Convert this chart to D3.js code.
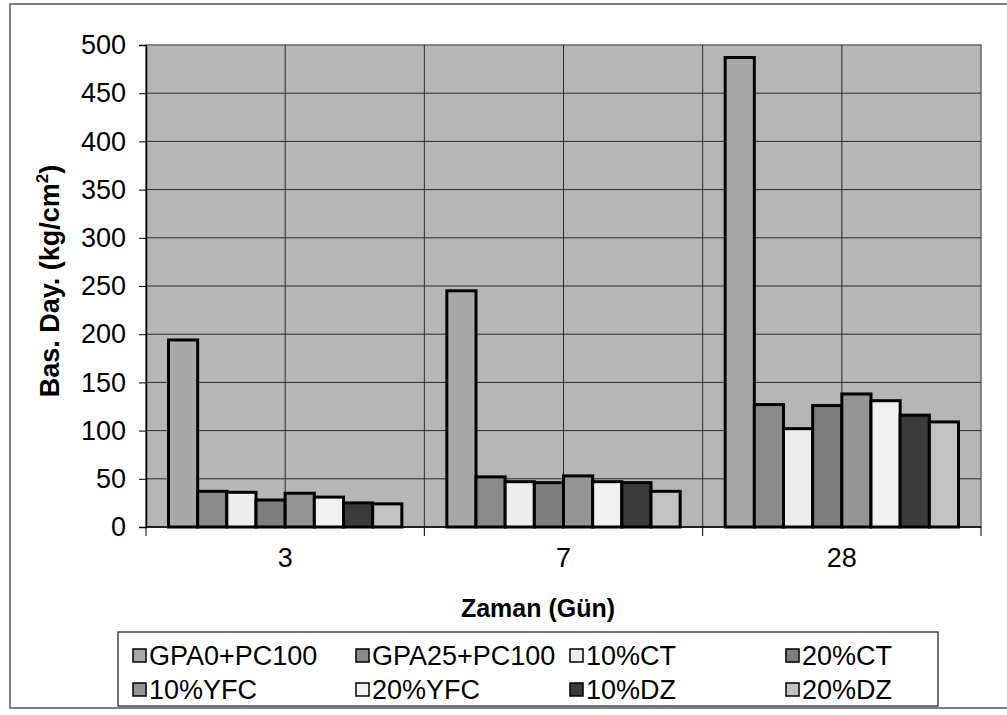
<!DOCTYPE html>
<html>
<head>
<meta charset="utf-8">
<script src="https://cdn.jsdelivr.net/npm/d3@7"></script>
<style>
  body { margin: 0; background: #fff; }
  text { font-family: "Liberation Sans", Arial, sans-serif; }
</style>
</head>
<body>
<script>
// data
var days = ["3", "7", "28"];
var series = ["GPA0+PC100", "GPA25+PC100", "10%CT", "20%CT", "10%YFC", "20%YFC", "10%DZ", "20%DZ"];
var gpa0 = [194, 245, 487];
var gpa25 = [37, 52, 127];
var ct10 = [36, 47, 102];
var ct20 = [28, 46, 126];
var yfc10 = [35, 53, 138];
var yfc20 = [31, 47, 131];
var dz10 = [25, 46, 116];
var dz20 = [24, 37, 109];
var yTicks = [0, 50, 100, 150, 200, 250, 300, 350, 400, 450, 500];

var values = [gpa0, gpa25, ct10, ct20, yfc10, yfc20, dz10, dz20];
var fills = ["#a9a9a9", "#8a8a8a", "#ededed", "#7e7e7e", "#959595", "#f1f1f1", "#3a3a3a", "#c2c2c2"];

var w = 1007;
var h = 715;
var plotL = 146, plotR = 981, plotT = 45, plotB = 527;

var svg = d3.select("body")
            .append("svg")
            .attr("width", w)
            .attr("height", h);

// outer chart frame
svg.append("rect")
  .attr("x", 10).attr("y", 4)
  .attr("width", 1010).attr("height", 704)
  .attr("fill", "#fff")
  .attr("stroke", "#555")
  .attr("stroke-width", 1.5);

var x = d3.scaleBand()
  .domain(days)
  .range([plotL, plotR]);

var gap = 22.5;
var x1 = d3.scaleBand()
  .domain(series)
  .range([gap, x.bandwidth() - gap]);

var y = d3.scaleLinear()
  .domain([0, 500])
  .range([plotB, plotT]);

// plot area
svg.append("rect")
  .attr("x", plotL).attr("y", plotT)
  .attr("width", plotR - plotL).attr("height", plotB - plotT)
  .attr("fill", "#b6b6b6")
  .attr("stroke", "#6a6a6a")
  .attr("stroke-width", 1.5);

// horizontal gridlines
svg.append("g").selectAll("line")
  .data(yTicks.slice(1, -1))
  .enter()
  .append("line")
  .attr("x1", plotL).attr("x2", plotR)
  .attr("y1", function(d) { return y(d); })
  .attr("y2", function(d) { return y(d); })
  .attr("stroke", "#2a2a2a")
  .attr("stroke-width", 1);

// vertical gridlines at category centres and boundaries
var vLines = [];
days.forEach(function(d, i) {
  vLines.push(x(d) + x.bandwidth() / 2);
  if (i > 0) vLines.push(x(d));
});
svg.append("g").selectAll("line")
  .data(vLines)
  .enter()
  .append("line")
  .attr("x1", function(d) { return d; })
  .attr("x2", function(d) { return d; })
  .attr("y1", plotT).attr("y2", plotB)
  .attr("stroke", "#2a2a2a")
  .attr("stroke-width", 1);

// bars
var barData = [];
days.forEach(function(d, i) {
  series.forEach(function(s, j) {
    barData.push({ day: d, name: s, value: values[j][i], fill: fills[j] });
  });
});

svg.append("g").selectAll("rect")
  .data(barData)
  .enter()
  .append("rect")
  .attr("x", function(d) { return x(d.day) + x1(d.name); })
  .attr("y", function(d) { return y(d.value); })
  .attr("width", x1.bandwidth())
  .attr("height", function(d) { return y(0) - y(d.value); })
  .attr("fill", function(d) { return d.fill; })
  .attr("stroke", "#000")
  .attr("stroke-width", 3);

// y axis
var yAxis = d3.axisLeft(y).tickValues(yTicks).tickSize(7).tickPadding(13);
var gy = svg.append("g")
  .attr("transform", "translate(" + plotL + ",0)")
  .call(yAxis);
gy.select(".domain").attr("stroke", "#000").attr("stroke-width", 1.5);
gy.selectAll(".tick line").attr("stroke", "#000");
gy.selectAll(".tick text")
  .attr("font-family", "Liberation Sans, Arial, sans-serif")
  .attr("font-size", "27px")
  .attr("fill", "#000");

// x axis: ticks at category boundaries
var gx = svg.append("g");
gx.append("line")
  .attr("x1", plotL).attr("x2", plotR)
  .attr("y1", plotB).attr("y2", plotB)
  .attr("stroke", "#000").attr("stroke-width", 1.5);
gx.selectAll("line.tk")
  .data(days.map(function(d) { return x(d); }).concat([plotR]))
  .enter()
  .append("line")
  .attr("class", "tk")
  .attr("x1", function(d) { return d; })
  .attr("x2", function(d) { return d; })
  .attr("y1", plotB).attr("y2", plotB + 9)
  .attr("stroke", "#000");
gx.selectAll("text")
  .data(days)
  .enter()
  .append("text")
  .text(function(d) { return d; })
  .attr("x", function(d) { return x(d) + x.bandwidth() / 2; })
  .attr("y", 567)
  .attr("text-anchor", "middle")
  .attr("font-size", "27px");

// axis titles
svg.append("text")
  .text("Zaman (Gün)")
  .attr("x", 538).attr("y", 617)
  .attr("text-anchor", "middle")
  .attr("font-size", "25px")
  .attr("font-weight", "bold");

var yt = svg.append("text")
  .attr("transform", "translate(59,281) rotate(-90)")
  .attr("text-anchor", "middle")
  .attr("font-size", "27px")
  .attr("font-weight", "bold");
yt.append("tspan").text("Bas. Day. (kg/cm");
yt.append("tspan").text("2").attr("dy", -11).attr("font-size", "17px");
yt.append("tspan").text(")").attr("dy", 11);

// legend
svg.append("rect")
  .attr("x", 118).attr("y", 632)
  .attr("width", 820).attr("height", 74)
  .attr("fill", "#fff")
  .attr("stroke", "#444")
  .attr("stroke-width", 1.5);

var legX = [133, 356, 570, 786];
var legY = [656, 690];
var leg = svg.append("g").selectAll("g")
  .data(series)
  .enter()
  .append("g")
  .attr("transform", function(d, i) {
    return "translate(" + legX[i % 4] + "," + legY[Math.floor(i / 4)] + ")";
  });
leg.append("rect")
  .attr("x", 0).attr("y", -7)
  .attr("width", 13).attr("height", 13)
  .attr("fill", function(d, i) { return fills[i]; })
  .attr("stroke", "#000")
  .attr("stroke-width", 1.5);
leg.append("text")
  .text(function(d) { return d; })
  .attr("x", 16).attr("y", 9)
  .attr("font-size", "27px");
</script>
</body>
</html>
